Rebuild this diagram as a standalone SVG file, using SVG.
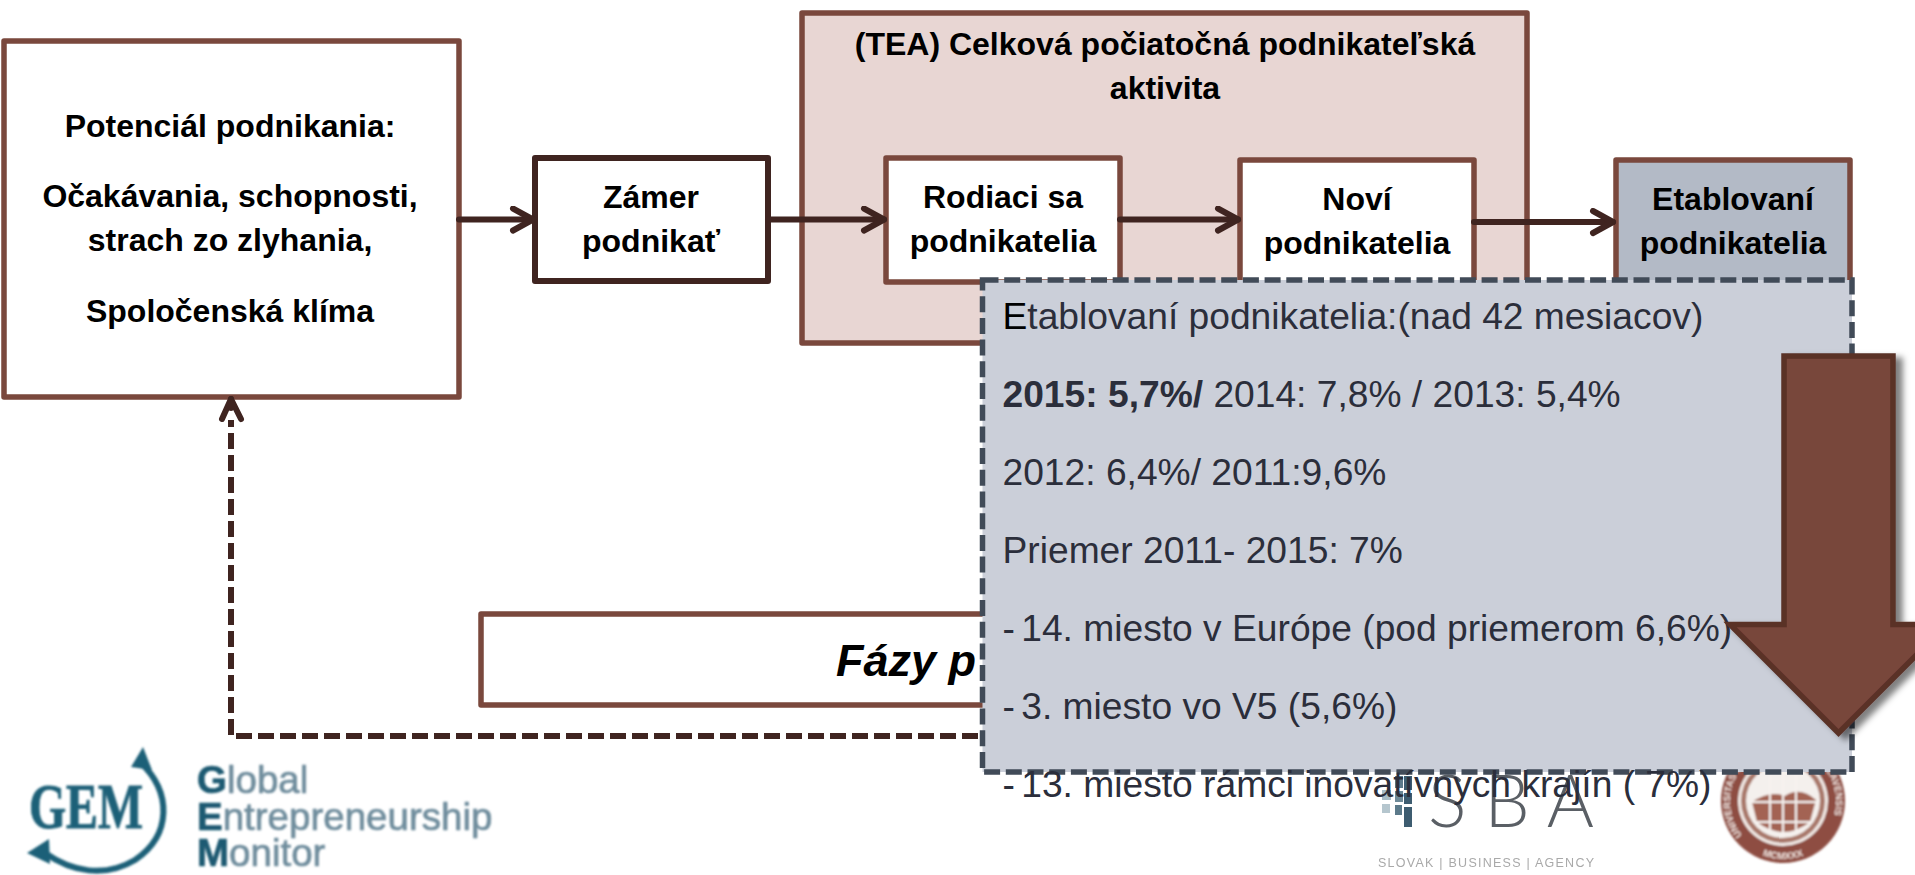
<svg xmlns="http://www.w3.org/2000/svg" width="1915" height="875" viewBox="0 0 1915 875">
<style>
text{font-family:"Liberation Sans",Arial,sans-serif}
.box{fill:#fff;stroke:#7a483d;stroke-width:5.5;stroke-linejoin:round}
.dark{stroke:#3f2420;stroke-width:6}
.lbl{font-size:32px;font-weight:700;text-anchor:middle;fill:#000}
.pt{font-size:37.2px;fill:#2b2e3b}
.conn{fill:none;stroke:#3f2420;stroke-width:6;stroke-linecap:round;stroke-linejoin:round}
.dash{fill:none;stroke:#3f2420;stroke-width:6;stroke-dasharray:16 6;stroke-linejoin:round}
.gt{font-size:38.5px;fill:#6f8d9d;stroke:#6f8d9d;stroke-width:.7}
.gb{fill:#1f5a72;stroke:#1f5a72;font-weight:700}
</style>
<defs>
<marker id="open" markerUnits="userSpaceOnUse" markerWidth="30" markerHeight="30" refX="25" refY="14" orient="auto"><path d="M5 3L25 14L5 25" fill="none" stroke="#3f2420" stroke-width="6" stroke-linecap="round" stroke-linejoin="round"/></marker>
<filter id="sh" x="-20%" y="-20%" width="140%" height="140%"><feDropShadow dx="7" dy="4" stdDeviation="3" flood-color="#000" flood-opacity=".5"/></filter>
<filter id="soft" x="-5%" y="-5%" width="110%" height="110%"><feGaussianBlur stdDeviation=".8"/></filter>
<filter id="soft2" x="-5%" y="-5%" width="110%" height="110%"><feGaussianBlur stdDeviation=".6"/></filter>
<path id="sealText" d="M1742 835A53 53 0 1 1 1824 835"/>
<path id="sealBot" d="M1745 845A58 58 0 0 0 1821 845"/>
</defs>
<rect width="1915" height="875" fill="#fff"/>

<g id="node-tea"><rect class="box" x="802" y="13" width="725" height="330" style="fill:#e8d6d3"/>
<text class="lbl" x="1165" y="55">(TEA) Celková počiatočná podnikateľská</text><text class="lbl" x="1165" y="99">aktivita</text></g>
<g id="node-potencial"><rect class="box" x="4" y="41" width="455" height="356"/>
<text class="lbl" x="230" y="137">Potenciál podnikania:</text><text class="lbl" x="230" y="207">Očakávania, schopnosti,</text><text class="lbl" x="230" y="251">strach zo zlyhania,</text><text class="lbl" x="230" y="322">Spoločenská klíma</text></g>
<g id="node-zamer"><rect class="box dark" x="535" y="158" width="233" height="123"/>
<text class="lbl" x="651" y="208">Zámer</text><text class="lbl" x="651" y="252">podnikať</text></g>
<g id="node-rodiaci"><rect class="box" x="886" y="158" width="234" height="124"/>
<text class="lbl" x="1003" y="208">Rodiaci sa</text><text class="lbl" x="1003" y="252">podnikatelia</text></g>
<g id="node-novi"><rect class="box" x="1240" y="160" width="234" height="126"/>
<text class="lbl" x="1357" y="210">Noví</text><text class="lbl" x="1357" y="254">podnikatelia</text></g>
<g id="node-etablovani"><rect class="box" x="1616" y="160" width="234" height="126" style="fill:#b3bac6"/>
<text class="lbl" x="1733" y="210">Etablovaní</text><text class="lbl" x="1733" y="254">podnikatelia</text></g>
<g id="node-fazy"><rect class="box" x="481" y="614" width="560" height="91"/>
<text x="836" y="676" font-size="45" font-weight="700" font-style="italic" fill="#000">Fázy p</text></g>

<g id="connectors">
<path class="conn" d="M459 219.5H533" marker-end="url(#open)"/>
<path class="conn" d="M768 219.5H884" marker-end="url(#open)"/>
<path class="conn" d="M1120 219.5H1238" marker-end="url(#open)"/>
<path class="conn" d="M1474 222H1613" marker-end="url(#open)"/>
<path class="dash" d="M1000 736H231V420"/>
<path class="conn" d="M222 419L231 399L241 419"/>
<path class="conn" d="M231 399V408"/>
</g>

<g id="logo-gem" filter="url(#soft)">
<text x="29" y="828" font-size="64" font-weight="700" fill="#1f6078" stroke="#1f6078" stroke-width="1" textLength="114" lengthAdjust="spacingAndGlyphs" style="font-family:'Liberation Serif',serif">GEM</text>
<path d="M140 762C172 792 172 835 135 860C105 878 72 872 45 853" fill="none" stroke="#1f6078" stroke-width="6"/>
<path fill="#1f6078" d="M143 747L152 770L131 767ZM27 853L49 839L50 864Z"/>
<text class="gt" x="197" y="793"><tspan class="gb">G</tspan>lobal</text>
<text class="gt" x="197" y="830"><tspan class="gb">E</tspan>ntrepreneurship</text>
<text class="gt" x="197" y="866"><tspan class="gb">M</tspan>onitor</text>
</g>

<g id="logo-sba" filter="url(#soft2)">
<g fill="#3c5c70"><rect x="1382" y="790" width="9" height="10" fill="#a8bcc6"/><rect x="1395" y="776" width="8" height="12" fill="#5c7a8a"/><rect x="1404" y="776" width="8" height="14"/><rect x="1395" y="791" width="8" height="11" fill="#6e8a98"/><rect x="1404" y="793" width="8" height="11"/><rect x="1382" y="804" width="8" height="9" fill="#b5c6ce"/><rect x="1395" y="805" width="7" height="10" fill="#5c7a8a"/><rect x="1404" y="807" width="8" height="20"/></g>
<text x="1428" y="827" font-size="72" font-weight="300" fill="#5a5f65" textLength="166" lengthAdjust="spacing" style="font-family:Lato,'Liberation Sans',sans-serif">SBA</text>
<text x="1378" y="867" font-size="12.5" fill="#a9a9a9" textLength="216" lengthAdjust="spacing">SLOVAK  |  BUSINESS  |  AGENCY</text>
</g>

<g id="logo-seal" filter="url(#soft)">
<circle cx="1783" cy="801" r="62" fill="#8e4d42"/>
<circle cx="1783" cy="801" r="45" fill="#f3ece8"/>
<circle cx="1783" cy="801" r="42" fill="#a9786b"/>
<circle cx="1783" cy="801" r="37" fill="#f4f0ed"/>
<path d="M1752 802Q1770 790 1785 796Q1800 786 1816 800L1810 822Q1783 842 1757 822Z" fill="#a36353"/>
<path d="M1783 770V836M1749 802H1817M1755 822H1812M1770 772V832M1796 772V832" stroke="#f7f3f0" stroke-width="2" fill="none"/>
<text font-size="9.5" fill="#f0e4df" font-weight="700"><textPath href="#sealText">UNIVERSITAS OECONOMICA BRATISLAVENSIS</textPath></text>
<text font-size="9.5" fill="#f0e4df" font-weight="700" text-anchor="middle"><textPath href="#sealBot" startOffset="50%">MCMXXX</textPath></text>
</g>

<g id="panel">
<rect x="982.5" y="280" width="869.5" height="492" fill="#cbcfd9" stroke="#414b58" stroke-width="5.5" stroke-dasharray="16 5.7"/>
<text class="pt" x="1002.5" y="329"><tspan fill="#000">E</tspan>tablovaní podnikatelia:(nad 42 mesiacov)</text>
<text class="pt" x="1002.5" y="407"><tspan font-weight="700">2015: 5,7%/</tspan> 2014: 7,8% / 2013: 5,4%</text>
<text class="pt" x="1002.5" y="485">2012: 6,4%/ 2011:9,6%</text>
<text class="pt" x="1002.5" y="563">Priemer 2011- 2015: 7%</text>
<text class="pt" x="1002.5" y="641">- <tspan dx="-4">14. miesto v Európe (pod priemerom 6,6%)</tspan></text>
<text class="pt" x="1002.5" y="719">- <tspan dx="-4">3. miesto vo V5 (5,6%)</tspan></text>
<text class="pt" x="1002.5" y="797">- <tspan dx="-4">13. miesto rámci inovatívnych krajín ( 7%)</tspan></text>
</g>

<g id="down-arrow"><path d="M1784 356H1893V624.5H1947L1838.5 733L1730 624.5H1784Z" fill="#78463b" stroke="#5a3028" stroke-width="5.5" filter="url(#sh)"/></g>
</svg>
